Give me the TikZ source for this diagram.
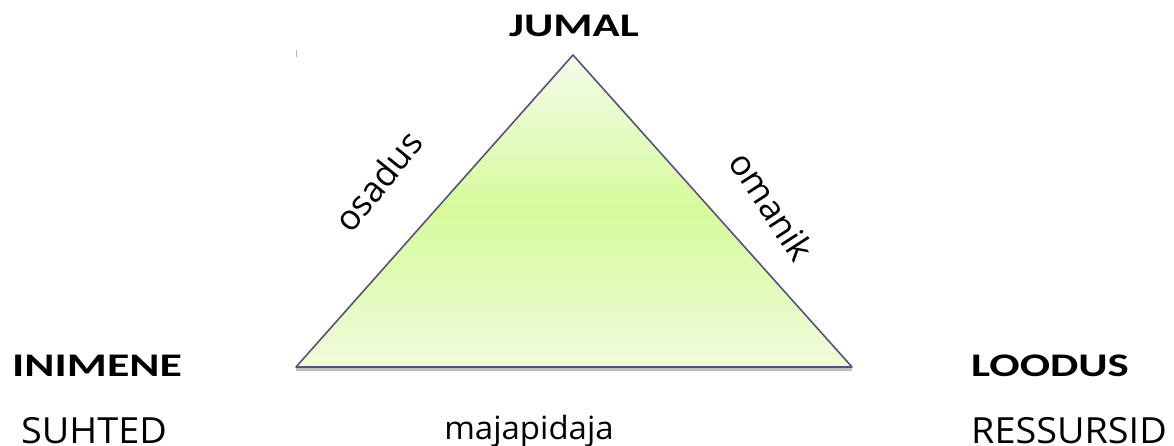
\documentclass[tikz,border=0pt]{standalone}
\usepackage{fontspec}
\usepackage{graphicx}
\setmainfont{Open Sans}
\newfontfamily\calib{Carlito}
\definecolor{gtop}{RGB}{244,252,234}
\definecolor{gmid}{RGB}{214,250,156}
\definecolor{gbot}{RGB}{240,252,220}
\definecolor{edgecol}{RGB}{90,80,128}
\newcommand{\wide}[2]{\scalebox{#1}[1]{#2}}
\begin{document}
\begin{tikzpicture}[x=1pt,y=1pt,
  lbl/.style={font=\fontsize{36}{40}\selectfont, inner sep=0pt, text=black},
  side/.style={font=\fontsize{35}{40}\selectfont, inner sep=0pt, text=black},
  bold/.style={font=\calib\bfseries\fontsize{33}{38}\selectfont, inner sep=0pt, text=black},
  edge/.style={draw=edgecol, line width=1.6pt, line join=round}]
\useasboundingbox (0,0) rectangle (1174,446);
\coordinate (apex) at (573,391);
\coordinate (bl) at (296,79);
\coordinate (br) at (852,79);
% shadow
\draw[black!25, line width=2.5pt] ([yshift=-2.5pt]bl) -- ([yshift=-2.5pt]br);
\begin{scope}
\clip (apex) -- (br) -- (bl) -- cycle;
\shade[top color=gtop, bottom color=gmid] (296,235) rectangle (852,392);
\shade[top color=gmid, bottom color=gbot] (296,78) rectangle (852,235.5);
\end{scope}
\draw[edge] (apex) -- (br) -- (bl) -- cycle;
\draw[black!30, line width=0.6pt] (296,389) -- (296,396);
\node[bold, anchor=base] (jumal) at (574,409) {\wide{1.36}{JUMAL}};
\node[bold, anchor=base west] (inimene) at (12,69) {\wide{1.39}{INIMENE}};
\node[bold, anchor=base west] (loodus) at (971,69) {\wide{1.36}{LOODUS}};
\node[lbl, anchor=base west] (suhted) at (21,2) {\wide{1.05}{SUHTED}};
\node[lbl, anchor=base west] (ress) at (971,2) {\wide{1.05}{RESSURSID}};
\node[lbl, font=\fontsize{32}{36}\selectfont, anchor=base] (maja) at (529,6) {\wide{1.03}{majapidaja}};
\node[side, rotate=51] (osadus) at (378,265) {osadus};
\node[side, rotate=-57] (omanik) at (772,240) {omanik};
\end{tikzpicture}
\end{document}
